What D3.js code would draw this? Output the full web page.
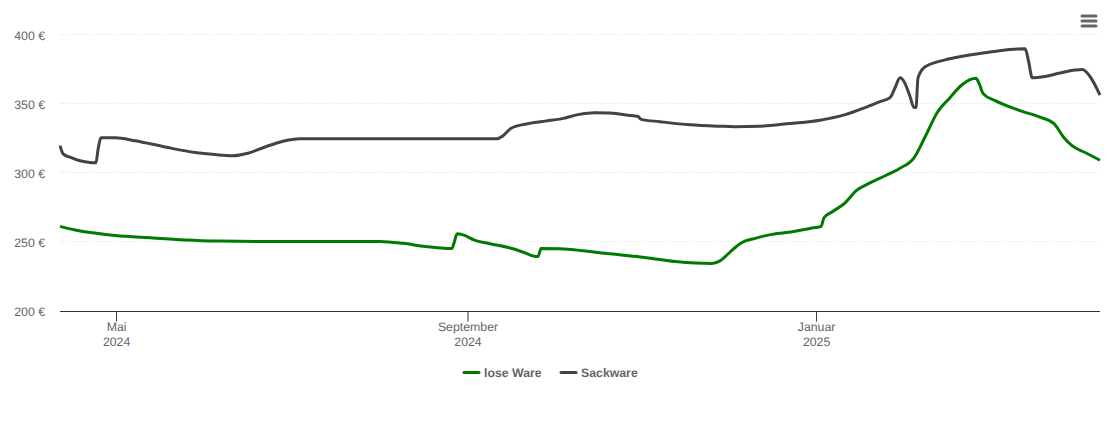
<!DOCTYPE html>
<html>
<head>
<meta charset="utf-8">
<script src="https://cdn.jsdelivr.net/npm/d3@7"></script>
<style>
html, body { margin: 0; padding: 0; background: #fff; }
svg { display: block; font-family: "Liberation Sans", Arial, sans-serif; text-rendering: geometricPrecision; }
</style>
</head>
<body>
<div id="chart"></div>
<script>
// x values are days counted from 1 May 2024
var loseDays = [-19.8, -14.5, -8.6, -0.5, 11.7, 24, 36.2, 50.2, 92.2, 100.3, 108, 113.2, 117.4, 118.1, 119.2, 121.3, 125.5, 130.7, 138.4, 143, 145.8, 147.5, 148.6, 155.2, 162.2, 172.7, 183.2, 195.5, 202.5, 208.4, 211.2, 214.7, 218.6, 223.5, 229.4, 237.5, 242.7, 246.6, 247.6, 250.4, 255, 258.8, 263.7, 269, 274.2, 279.1, 283, 287.2, 291.7, 295.9, 298.7, 300.8, 301.9, 303.3, 307.5, 316.2, 323.2, 328.1, 331.6, 334.4, 339, 344.2];
var loseValues = [261.6, 259, 256.9, 255, 253.3, 251.8, 251, 250.7, 250.7, 249.3, 247, 246, 245.6, 249.5, 256.2, 255.4, 251.4, 249, 245.6, 242.4, 240.2, 239.8, 245.6, 245.3, 244.2, 241.7, 239.5, 236.2, 235.1, 234.8, 236.6, 243, 249.6, 252.9, 255.8, 258, 260.1, 261.6, 267.8, 272, 278.6, 287.3, 293, 298.2, 303.6, 311.2, 326.4, 343.8, 354.7, 364, 367.7, 368.8, 364.8, 357.6, 352.5, 345.3, 340.6, 335.9, 325.7, 320, 315, 309.4];
var sackDays = [-19.8, -18.7, -16.3, -12.8, -10, -7.2, -6.5, -5.4, -0.5, 6.5, 17, 27.5, 34.5, 40.4, 46, 52, 57.9, 64.2, 99.2, 133.2, 135.3, 138.1, 143, 150, 155.9, 161.5, 167.5, 172.7, 179, 182.5, 183.6, 190.2, 200.7, 211.2, 216.5, 225.2, 235.7, 246.2, 255, 262, 267.2, 270.7, 272.5, 274.2, 275.7, 277.7, 279.1, 279.8, 280.5, 283, 290, 297, 305.7, 312.7, 318, 319.1, 320.5, 325, 330.2, 335.5, 338, 340.7, 344.2];
var sackValues = [320, 314, 311.6, 309, 308, 307.6, 317, 325.7, 325.7, 323.5, 319, 315, 313.5, 312.7, 314.5, 319, 323, 325, 325, 325, 327.2, 332.6, 335.5, 337.7, 339.5, 342.4, 343.8, 343.5, 342, 341, 339, 337.3, 335, 334, 333.7, 334, 336, 338.4, 342.4, 347.5, 351.8, 354.7, 362, 369, 366, 355.5, 347.5, 347.5, 369, 377, 382, 385, 387.7, 389.5, 390, 382, 369, 370, 372.5, 374.6, 375, 370, 356.5];
var yTicks = [200, 250, 300, 350, 400];
var xTickDates = [new Date(2024, 4, 1), new Date(2024, 8, 1), new Date(2025, 0, 1)];
var xTickLabels = [["Mai", "2024"], ["September", "2024"], ["Januar", "2025"]];
var seriesNames = ["lose Ware", "Sackware"];
var seriesColors = ["#007a00", "#434343"];

var width = 1110, height = 423;
var plotLeft = 60, plotRight = 1100, plotTop = 35, plotBottom = 311.5;
var fontSize = 12.3;

var startDate = new Date(2024, 4, 1);
var toDate = function(d) { return new Date(startDate.getTime() + d * 864e5); };

var x = d3.scaleTime()
	.domain([toDate(-19.8), toDate(344.2)])
	.range([plotLeft, plotRight]);
var y = d3.scaleLinear()
	.domain([200, 400])
	.range([plotBottom, plotTop]);

var svg = d3.select("#chart").append("svg")
	.attr("width", width)
	.attr("height", height);

// grid
svg.append("g").selectAll("line")
	.data(yTicks.slice(1))
	.enter().append("line")
	.attr("x1", plotLeft).attr("x2", plotRight)
	.attr("y1", function(d) { return Math.round(y(d)) - 0.5; })
	.attr("y2", function(d) { return Math.round(y(d)) - 0.5; })
	.attr("stroke", "#e0e0e0")
	.attr("stroke-dasharray", "1,2");

// y labels
svg.append("g").selectAll("text")
	.data(yTicks)
	.enter().append("text")
	.attr("x", 45)
	.attr("y", function(d) { return y(d) + 4.5; })
	.attr("text-anchor", "end")
	.attr("font-size", fontSize)
	.attr("fill", "#666")
	.text(function(d) { return d + " €"; });

// x axis
var xAxis = svg.append("g")
	.attr("transform", "translate(0," + plotBottom + ")")
	.call(d3.axisBottom(x).tickValues(xTickDates).tickSize(10).tickFormat("").offset(0));
xAxis.selectAll("path, line").attr("stroke", "#333");
xAxis.select("path").attr("d", "M" + plotLeft + ",0H" + plotRight);

var xLabels = svg.append("g").selectAll("text")
	.data(xTickDates)
	.enter().append("text")
	.attr("text-anchor", "middle")
	.attr("font-size", fontSize)
	.attr("fill", "#666");
xLabels.append("tspan")
	.attr("x", function(d) { return x(d); })
	.attr("y", 331)
	.text(function(d, i) { return xTickLabels[i][0]; });
xLabels.append("tspan")
	.attr("x", function(d) { return x(d); })
	.attr("y", 346)
	.text(function(d, i) { return xTickLabels[i][1]; });

// lines
var line = d3.line()
	.x(function(d) { return x(toDate(d[0])); })
	.y(function(d) { return y(d[1]); })
	.curve(d3.curveMonotoneX);

svg.append("path")
	.datum(d3.zip(loseDays, loseValues))
	.attr("d", line)
	.attr("fill", "none")
	.attr("stroke", seriesColors[0])
	.attr("stroke-width", 3)
	.attr("stroke-linejoin", "round");
svg.append("path")
	.datum(d3.zip(sackDays, sackValues))
	.attr("d", line)
	.attr("fill", "none")
	.attr("stroke", seriesColors[1])
	.attr("stroke-width", 3)
	.attr("stroke-linejoin", "round");

// legend
var legendX = [464, 561];
var legend = svg.append("g").selectAll("g")
	.data(seriesNames)
	.enter().append("g")
	.attr("transform", function(d, i) { return "translate(" + legendX[i] + ",372.5)"; });
legend.append("line")
	.attr("x1", 0).attr("x2", 15)
	.attr("stroke", function(d, i) { return seriesColors[i]; })
	.attr("stroke-width", 3)
	.attr("stroke-linecap", "round");
legend.append("text")
	.attr("x", 20)
	.attr("y", 4.5)
	.attr("font-size", fontSize)
	.attr("font-weight", "bold")
	.attr("fill", "#666")
	.text(function(d) { return d; });

// menu icon
svg.append("g").selectAll("line")
	.data([16, 21, 26])
	.enter().append("line")
	.attr("x1", 1082).attr("x2", 1096)
	.attr("y1", function(d) { return d; })
	.attr("y2", function(d) { return d; })
	.attr("stroke", "#666")
	.attr("stroke-width", 3)
	.attr("stroke-linecap", "round");
</script>
</body>
</html>
